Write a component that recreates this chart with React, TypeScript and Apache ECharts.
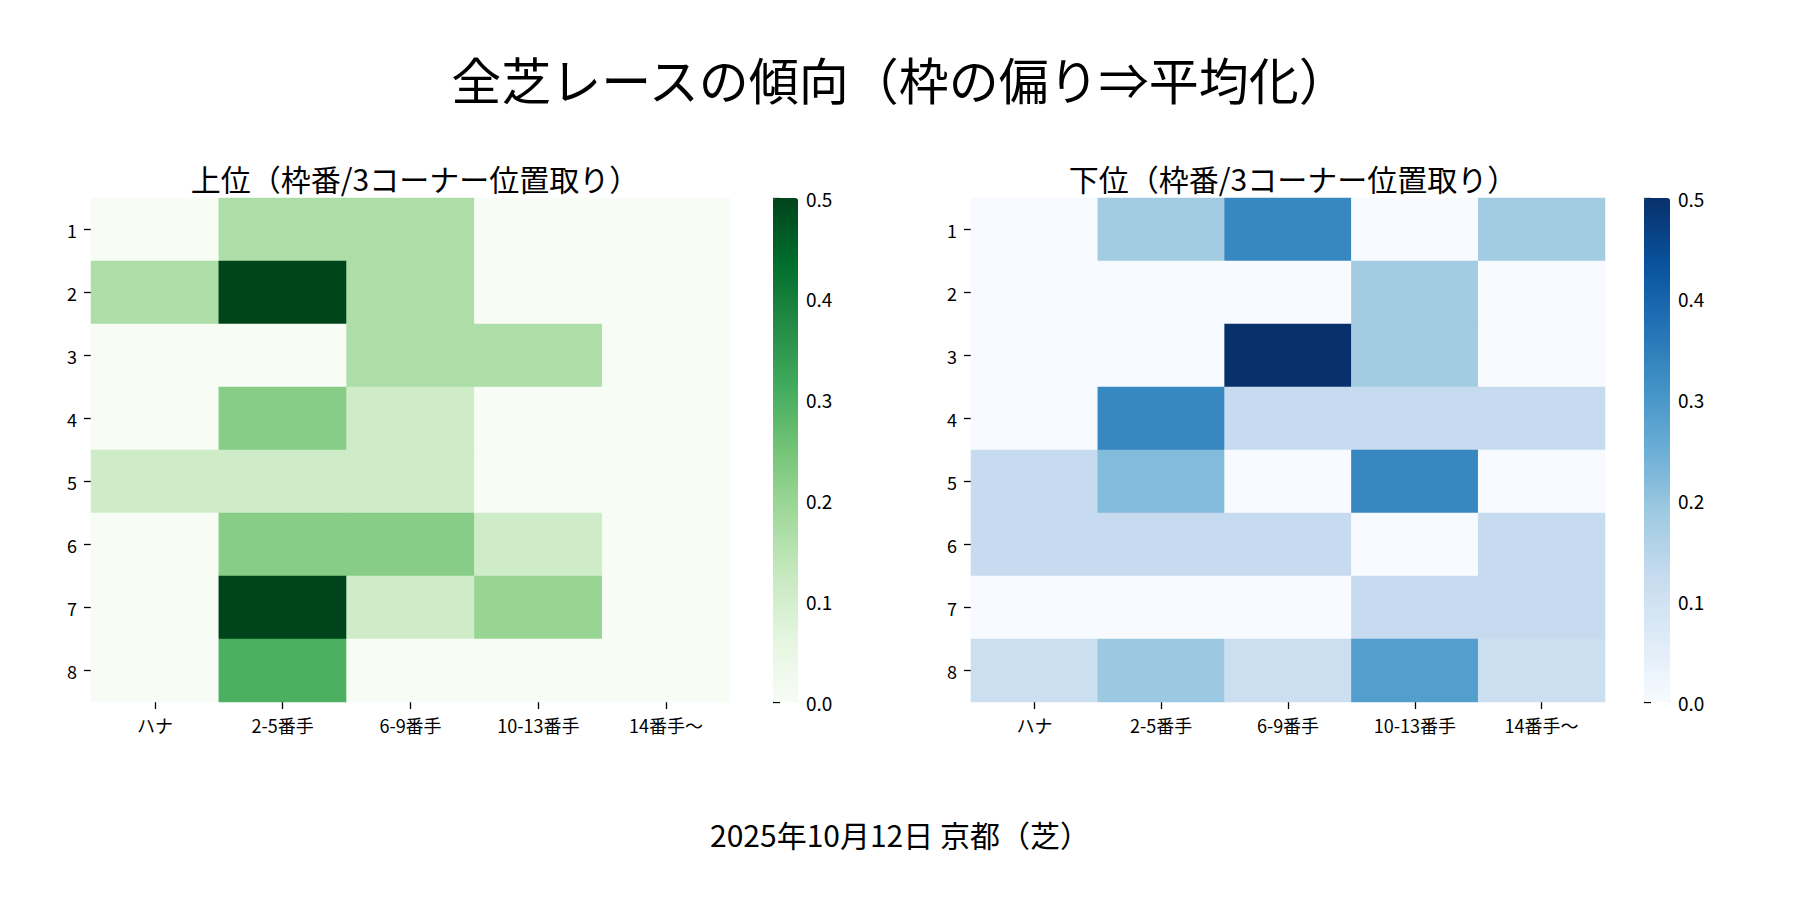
import React, { useEffect, useRef } from "react";
import * as echarts from "echarts";

const cols = ["ハナ", "2-5番手", "6-9番手", "10-13番手", "14番手〜"];
const rows = ["1", "2", "3", "4", "5", "6", "7", "8"];
const topVals = [
  [0, 0.167, 0.167, 0, 0],
  [0.167, 0.5, 0.167, 0, 0],
  [0, 0, 0.167, 0.167, 0],
  [0, 0.222, 0.111, 0, 0],
  [0.111, 0.111, 0.111, 0, 0],
  [0, 0.222, 0.222, 0.111, 0],
  [0, 0.5, 0.111, 0.2, 0],
  [0, 0.3, 0, 0, 0],
];
const lowVals = [
  [0, 0.18, 0.333, 0, 0.18],
  [0, 0, 0, 0.18, 0],
  [0, 0, 0.5, 0.18, 0],
  [0, 0.333, 0.125, 0.125, 0.125],
  [0.125, 0.222, 0, 0.333, 0],
  [0.125, 0.125, 0.125, 0, 0.125],
  [0, 0, 0, 0.125, 0.125],
  [0.111, 0.19, 0.111, 0.286, 0.111],
];
const greens = ["#f7fcf5", "#e5f5e0", "#c7e9c0", "#a1d99b", "#74c476", "#41ab5d", "#238b45", "#006d2c", "#00441b"];
const blues = ["#f7fbff", "#deebf7", "#c6dbef", "#9ecae1", "#6baed6", "#4292c6", "#2171b5", "#08519c", "#08306b"];

const FONT = "Noto Sans CJK JP";
const toData = (m: number[][]) => m.flatMap((r, y) => r.map((v, x) => [x, y, v]));

export default function App() {
  const ref = useRef<HTMLDivElement>(null);
  useEffect(() => {
    const chart = echarts.init(ref.current!, null, { renderer: "svg" });
    const T = 190, H = 504;
    const heat = [
      { left: 83, width: 639 },
      { left: 963, width: 634 },
    ];
    const bars = [
      { left: 765, width: 25 },
      { left: 1636, width: 26 },
    ];
    const grids: any[] = [
      ...heat.map((g) => ({ left: g.left, width: g.width, top: T, height: H })),
      ...bars.map((g) => ({ left: g.left, width: g.width, top: T, height: H })),
    ];
    const tickStyle = { show: true, length: 7, lineStyle: { color: "#000", width: 1.3 } };
    const lab = { color: "#000", fontFamily: FONT, fontSize: 18 };
    const ttl = (text: string, left: any, top: number, fontSize: number, align?: string) => ({
      text, left, top, textAlign: align, textStyle: { fontSize, fontWeight: "normal", color: "#000", fontFamily: FONT },
    });
    chart.setOption({
      animation: false,
      textStyle: { fontFamily: FONT },
      title: [
        ttl("全芝レースの傾向（枠の偏り⇒平均化）", "center", 40, 50),
        ttl("上位（枠番/3コーナー位置取り）", 402, 150, 30, "center"),
        ttl("下位（枠番/3コーナー位置取り）", 1280, 150, 30, "center"),
        ttl("2025年10月12日 京都（芝）", "center", 806, 30),
      ],
      grid: grids,
      xAxis: [
        ...[0, 1].map((i) => ({ type: "category", gridIndex: i, data: cols, axisLine: { show: false }, axisTick: { ...tickStyle, alignWithLabel: true }, axisLabel: { ...lab, margin: 14 }, splitLine: { show: false } })),
        ...[2, 3].map((i) => ({ type: "value", gridIndex: i, show: false, min: 0, max: 1 })),
      ],
      yAxis: [
        ...[0, 1].map((i) => ({ type: "category", gridIndex: i, data: rows, inverse: true, axisLine: { show: false }, axisTick: { ...tickStyle, alignWithLabel: true }, axisLabel: { ...lab, margin: 14 }, splitLine: { show: false } })),
        ...[2, 3].map((i) => ({ type: "value", gridIndex: i, position: "right", min: 0, max: 0.5, interval: 0.1, axisLine: { show: false }, axisTick: tickStyle, axisLabel: { ...lab, fontSize: 19, margin: 8, formatter: (v: number) => v.toFixed(1) }, splitLine: { show: false } })),
      ],
      visualMap: [
        { type: "continuous", seriesIndex: 0, min: 0, max: 0.5, inRange: { color: greens }, left: bars[0].left, top: T, itemWidth: bars[0].width, itemHeight: H, padding: 0, calculable: false, text: null, showLabel: false },
        { type: "continuous", seriesIndex: 1, min: 0, max: 0.5, inRange: { color: blues }, left: bars[1].left, top: T, itemWidth: bars[1].width, itemHeight: H, padding: 0, calculable: false, text: null, showLabel: false },
      ],
      series: [
        { type: "heatmap", xAxisIndex: 0, yAxisIndex: 0, data: toData(topVals), itemStyle: { borderWidth: 0 } },
        { type: "heatmap", xAxisIndex: 1, yAxisIndex: 1, data: toData(lowVals), itemStyle: { borderWidth: 0 } },
      ],
    });
    return () => chart.dispose();
  }, []);
  return <div ref={ref} style={{ width: 1784, height: 884 }} />;
}
